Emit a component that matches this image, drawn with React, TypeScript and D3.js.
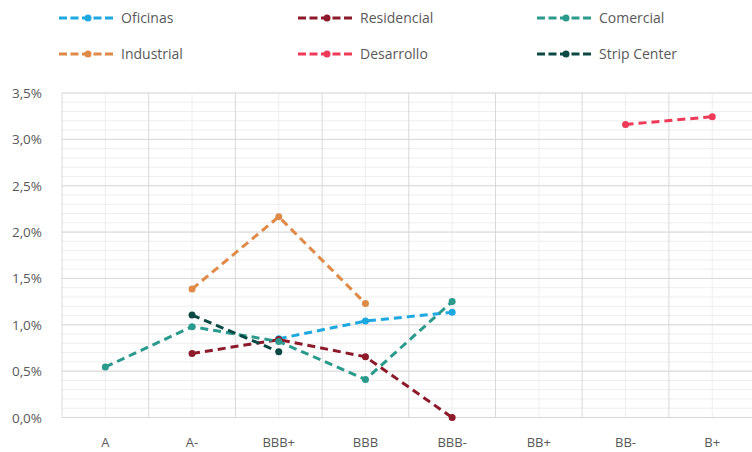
import React from "react";
import * as d3 from "d3";

const categories = ["A", "A-", "BBB+", "BBB", "BBB-", "BB+", "BB-", "B+"];
const yTicks = [0, 0.5, 1, 1.5, 2, 2.5, 3, 3.5];

type Pt = [string, number];
const oficinas: Pt[] = [["BBB+", 0.85], ["BBB", 1.04], ["BBB-", 1.135]];
const residencial: Pt[] = [["A-", 0.69], ["BBB+", 0.84], ["BBB", 0.655], ["BBB-", 0.0]];
const comercial: Pt[] = [["A", 0.545], ["A-", 0.98], ["BBB+", 0.82], ["BBB", 0.41], ["BBB-", 1.25]];
const industrial: Pt[] = [["A-", 1.385], ["BBB+", 2.165], ["BBB", 1.23]];
const desarrollo: Pt[] = [["BB-", 3.16], ["B+", 3.245]];
const stripCenter: Pt[] = [["A-", 1.105], ["BBB+", 0.71]];

const seriesNames = ["Oficinas", "Residencial", "Comercial", "Industrial", "Desarrollo", "Strip Center"];
const seriesColors = ["#1ea8e0", "#8c1a2a", "#2a9a8d", "#e08a48", "#ee3a58", "#0b4945"];
const seriesData = [oficinas, residencial, comercial, industrial, desarrollo, stripCenter];

const W = 752;
const H = 452;
const left = 62;
const right = 755.6;
const top = 93;
const bottom = 417.5;
const FONT = "'Open Sans', 'Noto Sans', sans-serif";

export default function App() {
  const x = d3.scaleBand<string>().domain(categories).range([left, right]);
  const y = d3.scaleLinear().domain([0, 3.5]).range([bottom, top]);
  const cx = (c: string) => (x(c) ?? 0) + x.bandwidth() / 2;
  const minorY = d3.range(0, 3.5001, 0.1).map((v) => +v.toFixed(1));
  const line = d3
    .line<Pt>()
    .x((d) => cx(d[0]))
    .y((d) => y(d[1]));

  const legendCols = [59, 298, 537];
  const legendRows = [18, 54];

  return (
    <svg width={W} height={H} style={{ position: "absolute", left: 0, top: 0, background: "#fff" }}>
      {/* minor grid */}
      {minorY.map((v, i) => (
        <line key={"mh" + i} x1={left} x2={right} y1={y(v)} y2={y(v)} stroke="#eeeeee" strokeWidth={1} />
      ))}
      {categories.map((c) => (
        <line key={"mv" + c} x1={cx(c)} x2={cx(c)} y1={top} y2={bottom} stroke="#eeeeee" strokeWidth={1} />
      ))}
      {/* major grid */}
      {yTicks.map((v) => (
        <line key={"h" + v} x1={left} x2={right} y1={y(v)} y2={y(v)} stroke="#d9d9d9" strokeWidth={1} />
      ))}
      {d3.range(categories.length + 1).map((i) => {
        const xx = left + i * x.bandwidth();
        return <line key={"v" + i} x1={xx} x2={xx} y1={top} y2={bottom} stroke="#d9d9d9" strokeWidth={1} />;
      })}
      {/* y axis labels */}
      {yTicks.map((v) => (
        <text key={"yt" + v} x={42} y={y(v) + 5} textAnchor="end" fontFamily={FONT} fontSize={13.5} fill="#595959">
          {v.toFixed(1).replace(".", ",") + "%"}
        </text>
      ))}
      {/* x axis labels */}
      {categories.map((c) => (
        <text key={"xt" + c} x={cx(c)} y={447} textAnchor="middle" fontFamily={FONT} fontSize={13} fill="#595959">
          {c}
        </text>
      ))}
      {/* series */}
      {seriesData.map((data, si) => (
        <g key={"s" + si}>
          <path d={line(data) ?? ""} fill="none" stroke={seriesColors[si]} strokeWidth={3} strokeDasharray="8 5" />
          {data.map((d, i) => (
            <circle key={i} cx={cx(d[0])} cy={y(d[1])} r={3.5} fill={seriesColors[si]} />
          ))}
        </g>
      ))}
      {/* legend */}
      {seriesNames.map((name, i) => {
        const lx = legendCols[i % 3];
        const ly = legendRows[Math.floor(i / 3)];
        return (
          <g key={"lg" + i}>
            <line x1={lx} x2={lx + 54} y1={ly} y2={ly} stroke={seriesColors[i]} strokeWidth={3} strokeDasharray="8 3.5" />
            <circle cx={lx + 29} cy={ly} r={3.5} fill={seriesColors[i]} />
            <text x={lx + 62} y={ly + 5} fontFamily={FONT} fontSize={14} fill="#595959">
              {name}
            </text>
          </g>
        );
      })}
    </svg>
  );
}
